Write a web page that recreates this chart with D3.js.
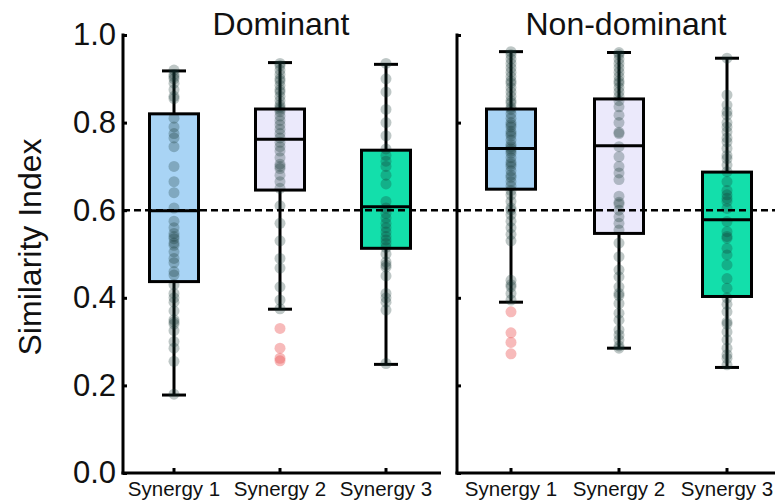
<!DOCTYPE html>
<html>
<head>
<meta charset="utf-8">
<script src="https://cdn.jsdelivr.net/npm/d3@7"></script>
<style>
  body { margin: 0; background: #fff; }
  svg { display: block; font-family: "Liberation Sans", Arial, sans-serif; }
</style>
</head>
<body>
<svg id="chart" width="775" height="504"></svg>
<script>
const categories = ['Synergy 1', 'Synergy 2', 'Synergy 3'];
const panelTitles = ['Dominant', 'Non-dominant'];
const yTicks = [0, 0.2, 0.4, 0.6, 0.8, 1.0];
const boxColors = ['#a9d4f5', '#ebe9fb', '#13dfab'];
const refLine = 0.6;

// box stats per synergy: [whisker low, q1, median, q3, whisker high]
const domBoxes = [
  [0.178, 0.437, 0.599, 0.820, 0.918],
  [0.374, 0.646, 0.762, 0.831, 0.937],
  [0.248, 0.513, 0.608, 0.737, 0.933]
];
const nonBoxes = [
  [0.390, 0.648, 0.741, 0.831, 0.962],
  [0.285, 0.547, 0.747, 0.854, 0.960],
  [0.241, 0.403, 0.578, 0.687, 0.947]
];

// individual subjects
const dom1 = [0.92, 0.91, 0.905, 0.90, 0.89, 0.875, 0.86, 0.855, 0.81, 0.79, 0.775, 0.765, 0.745, 0.70,
  0.665, 0.64, 0.605, 0.575, 0.56, 0.547, 0.54, 0.535, 0.525, 0.52, 0.505, 0.49, 0.48, 0.46, 0.452, 0.43,
  0.41, 0.40, 0.39, 0.37, 0.35, 0.345, 0.34, 0.325, 0.30, 0.285, 0.255, 0.18];
const dom2 = [0.935, 0.93, 0.92, 0.91, 0.90, 0.895, 0.885, 0.875, 0.87, 0.86, 0.85, 0.84, 0.835, 0.83,
  0.825, 0.815, 0.805, 0.795, 0.785, 0.775, 0.765, 0.755, 0.745, 0.735, 0.72, 0.705, 0.70, 0.695, 0.68,
  0.665, 0.65, 0.61, 0.57, 0.53, 0.49, 0.468, 0.425, 0.395, 0.375];
const dom3 = [0.935, 0.90, 0.87, 0.83, 0.80, 0.77, 0.74, 0.725, 0.712, 0.70, 0.68, 0.66, 0.62, 0.605, 0.593,
  0.582, 0.57, 0.56, 0.55, 0.54, 0.532, 0.524, 0.515, 0.50, 0.482, 0.475, 0.47, 0.45, 0.41, 0.40, 0.39,
  0.372, 0.25];
const non1 = [0.962, 0.955, 0.945, 0.935, 0.925, 0.915, 0.905, 0.895, 0.89, 0.88, 0.87, 0.86, 0.85, 0.845,
  0.835, 0.83, 0.82, 0.81, 0.80, 0.795, 0.79, 0.78, 0.775, 0.77, 0.76, 0.75, 0.745, 0.74, 0.735, 0.73, 0.72,
  0.71, 0.705, 0.70, 0.69, 0.68, 0.675, 0.665, 0.655, 0.645, 0.635, 0.62, 0.605, 0.60, 0.59, 0.575, 0.56,
  0.545, 0.53, 0.44, 0.43, 0.425, 0.41, 0.395];
const non2 = [0.96, 0.955, 0.945, 0.935, 0.925, 0.915, 0.905, 0.895, 0.89, 0.88, 0.87, 0.86, 0.85, 0.836,
  0.817, 0.80, 0.778, 0.775, 0.745, 0.722, 0.70, 0.685, 0.67, 0.632, 0.618, 0.614, 0.60, 0.585, 0.57, 0.555,
  0.525, 0.494, 0.464, 0.448, 0.425, 0.41, 0.405, 0.387, 0.365, 0.349, 0.327, 0.315, 0.304, 0.29, 0.285];
const non3 = [0.947, 0.863, 0.84, 0.825, 0.817, 0.80, 0.79, 0.779, 0.765, 0.756, 0.741, 0.725, 0.718, 0.703,
  0.688, 0.665, 0.645, 0.635, 0.627, 0.62, 0.604, 0.574, 0.551, 0.54, 0.536, 0.513, 0.498, 0.475, 0.444,
  0.422, 0.40, 0.385, 0.368, 0.345, 0.34, 0.322, 0.304, 0.285, 0.27, 0.262, 0.247];

// outliers (red)
const domOut = [[], [0.33, 0.285, 0.262, 0.256], []];
const nonOut = [[0.368, 0.32, 0.298, 0.272], [], []];

const svg = d3.select('#chart');

const y = d3.scaleLinear().domain([0, 1]).range([473, 35]);

const panels = [
  { title: panelTitles[0], left: 123, right: 441, range: [121, 439], titleX: 281, labels: true,
    boxes: domBoxes, points: [dom1, dom2, dom3], outliers: domOut },
  { title: panelTitles[1], left: 457, right: 781, range: [457, 781], titleX: 626, labels: false,
    boxes: nonBoxes, points: [non1, non2, non3], outliers: nonOut }
];

const boxW = 49, capW = 24;

panels.forEach(p => {
  const x = d3.scaleBand().domain(categories).range(p.range);
  const cx = c => x(c) + x.bandwidth() / 2;
  const g = svg.append('g');

  // whiskers + caps
  p.boxes.forEach((b, i) => {
    const c = cx(categories[i]);
    g.append('line').attr('x1', c).attr('x2', c).attr('y1', y(b[0])).attr('y2', y(b[4]))
      .attr('stroke', '#000').attr('stroke-width', 3);
    [b[0], b[4]].forEach(v => {
      g.append('line').attr('x1', c - capW / 2).attr('x2', c + capW / 2).attr('y1', y(v)).attr('y2', y(v))
        .attr('stroke', '#000').attr('stroke-width', 3);
    });
    g.append('rect').attr('x', c - boxW / 2).attr('width', boxW)
      .attr('y', y(b[3])).attr('height', y(b[1]) - y(b[3]))
      .attr('fill', boxColors[i]);
  });

  // subject points
  p.points.forEach((vals, i) => {
    const c = cx(categories[i]);
    g.selectAll(null).data(vals).enter().append('circle')
      .attr('cx', c).attr('cy', d => y(d)).attr('r', 5.5)
      .attr('fill', '#173532').attr('fill-opacity', 0.28);
  });
  p.outliers.forEach((vals, i) => {
    const c = cx(categories[i]);
    g.selectAll(null).data(vals).enter().append('circle')
      .attr('cx', c).attr('cy', d => y(d)).attr('r', 5.5)
      .attr('fill', '#ec5a5a').attr('fill-opacity', 0.42);
  });

  // box outline + median
  p.boxes.forEach((b, i) => {
    const c = cx(categories[i]);
    g.append('rect').attr('x', c - boxW / 2).attr('width', boxW)
      .attr('y', y(b[3])).attr('height', y(b[1]) - y(b[3]))
      .attr('fill', 'none').attr('stroke', '#000').attr('stroke-width', 3);
    g.append('line').attr('x1', c - boxW / 2).attr('x2', c + boxW / 2).attr('y1', y(b[2])).attr('y2', y(b[2]))
      .attr('stroke', '#000').attr('stroke-width', 3);
  });

  // y axis
  const yAxis = d3.axisLeft(y).tickValues(yTicks).tickSize(-4).tickPadding(7)
    .tickFormat(p.labels ? d3.format('.1f') : '');
  const ya = g.append('g').attr('transform', `translate(${p.left},0)`).call(yAxis);
  ya.select('.domain').remove();
  ya.selectAll('.tick line').attr('stroke-width', 3);
  ya.selectAll('.tick text').attr('font-size', 31).attr('fill', '#111')
    .attr('font-family', '"Liberation Sans", Arial, sans-serif');
  g.append('line').attr('x1', p.left).attr('x2', p.left).attr('y1', 33.5).attr('y2', 474.5)
    .attr('stroke', '#000').attr('stroke-width', 3);

  // x axis
  const xAxis = d3.axisBottom(x).tickSize(-5).tickPadding(8).tickSizeOuter(0);
  const xa = g.append('g').attr('transform', 'translate(0,473)').call(xAxis);
  xa.select('.domain').remove();
  xa.selectAll('.tick line').attr('stroke-width', 3);
  xa.selectAll('.tick text').attr('font-size', 20.5).attr('fill', '#111')
    .attr('font-family', '"Liberation Sans", Arial, sans-serif');
  g.append('line').attr('x1', p.left - 1.5).attr('x2', p.right).attr('y1', 473).attr('y2', 473)
    .attr('stroke', '#000').attr('stroke-width', 3);

  // title
  svg.append('text').attr('x', p.titleX).attr('y', 35).attr('text-anchor', 'middle')
    .attr('font-size', 32).attr('fill', '#111').text(p.title);
});

// reference line across both panels
svg.append('line').attr('x1', 123).attr('x2', 775).attr('y1', y(refLine)).attr('y2', y(refLine))
  .attr('stroke', '#000').attr('stroke-width', 2.6).attr('stroke-dasharray', '7,4');

// y label
svg.append('text').attr('transform', 'translate(41,247) rotate(-90)').attr('text-anchor', 'middle')
  .attr('font-size', 32).attr('fill', '#111').text('Similarity Index');
</script>
</body>
</html>
